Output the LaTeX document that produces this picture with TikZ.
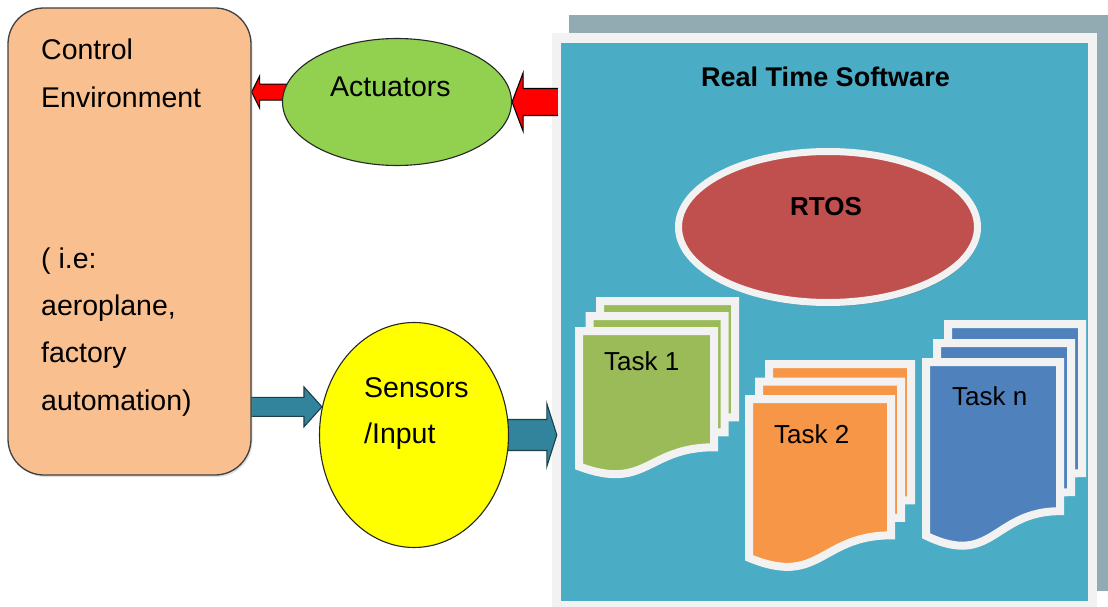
\documentclass[tikz,border=0pt]{standalone}
\usepackage{fontspec}
\setmainfont{Liberation Sans}
\usetikzlibrary{shapes.geometric,calc,shadows}

\definecolor{envfill}{HTML}{F9BF8F}
\definecolor{actgreen}{HTML}{92D050}
\definecolor{senyellow}{HTML}{FFFF00}
\definecolor{arrred}{HTML}{FF0000}
\definecolor{arrteal}{HTML}{31849B}
\definecolor{arrtealdark}{HTML}{1C3F4A}
\definecolor{backgray}{HTML}{92AAB2}
\definecolor{framewhite}{HTML}{F2F2F2}
\definecolor{rtteal}{HTML}{4BACC6}
\definecolor{rtosred}{HTML}{C0504D}
\definecolor{taskgreen}{HTML}{9BBB59}
\definecolor{taskorange}{HTML}{F79646}
\definecolor{taskblue}{HTML}{4F81BD}

\pgfdeclarelayer{back}
\pgfdeclarelayer{arrows}
\pgfsetlayers{back,arrows,main}

\tikzset{
  txt/.style={font=\fontsize{28.5}{34}\selectfont, anchor=base west, inner sep=0pt},
  boldtxt/.style={font=\fontsize{27}{32}\selectfont\bfseries, inner sep=0pt},
  tasktxt/.style={font=\fontsize{26}{30}\selectfont, anchor=base west, inner sep=0pt},
  envbox/.style={draw=black!75, line width=1.3pt, fill=envfill, rounded corners=36pt,
    minimum width=243pt, minimum height=467pt, inner sep=0pt,
    drop shadow={shadow xshift=1.5pt, shadow yshift=-2pt, opacity=0.25}},
  bubble/.style={ellipse, draw=black!85, line width=1.1pt, inner sep=0pt},
  redfill/.style={fill=arrred},
  redline/.style={draw=black, line width=1.1pt, line join=miter},
  tealfill/.style={fill=arrteal},
  tealline/.style={draw=arrtealdark, line width=1.1pt, line join=miter},
  pageframe/.style={draw=framewhite, line width=8pt, line join=miter,
    drop shadow={shadow xshift=1.5pt, shadow yshift=-3pt, opacity=0.3}},
}

% block arrow: #1 fill style, #2 outline style, #3 tail, #4 tip,
% #5 shaft half-width, #6 head half-width, #7 signed head length
\newcommand\blockarrow[7]{%
  \fill[#1] ($(#3)+(0,-#5)$) -- ($(#4)+(#7,-#5)$) -- ($(#4)+(#7,-#6)$) -- (#4)
    -- ($(#4)+(#7,#6)$) -- ($(#4)+(#7,#5)$) -- ($(#3)+(0,#5)$) -- cycle;
  \draw[#2] ($(#3)+(0,-#5)$) -- ($(#4)+(#7,-#5)$) -- ($(#4)+(#7,-#6)$) -- (#4)
    -- ($(#4)+(#7,#6)$) -- ($(#4)+(#7,#5)$) -- ($(#3)+(0,#5)$);}

% one page with a wavy lower edge: left, top, width, height, colour
\newcommand\docpage[5]{%
  \filldraw[pageframe, fill=#5] (#1,#2) -- (#1+#3,#2) -- (#1+#3,#2+0.802*#4)
    .. controls (#1+0.5*#3,#2+0.802*#4) and (#1+0.5*#3,#2+1.108*#4) .. (#1,#2+0.934*#4)
    -- cycle;}

% a stack of three pages: left, top, width, height, dx, dy, colour
\newcommand\taskstack[7]{%
  \docpage{#1+2*#5}{#2-2*#6}{#3}{#4}{#7}
  \docpage{#1+#5}{#2-#6}{#3}{#4}{#7}
  \docpage{#1}{#2}{#3}{#4}{#7}}

\begin{document}
\begin{tikzpicture}[x=1pt,y=-1pt]
\useasboundingbox (0,0) rectangle (1108,607);
\clip (0,0) rectangle (1108,607);

% real time software panel
\begin{pgfonlayer}{back}
  \fill[backgray] (569,15) rectangle (1115,591);
  \node[fill=framewhite, minimum width=545pt, minimum height=574pt, inner sep=0pt] (rts) at (824.5,320) {};
  \node[fill=rtteal, minimum width=527pt, minimum height=558pt, inner sep=0pt] (rtsin) at (824.5,322) {};
\end{pgfonlayer}
\node[boldtxt, anchor=base west] (rtstitle) at (701,87) {Real Time Software};

% control environment
\node[envbox] (env) at (129.5,241.5) {};
\node[txt] (env1) at (41,60) {Control};
\node[txt] (env2) at (41,108) {Environment};
\node[txt] (env3) at (41,268) {( i.e:};
\node[txt] (env4) at (41,315) {aeroplane,};
\node[txt] (env5) at (41,362) {factory};
\node[txt] (env6) at (41,410) {automation)};

% actuators and sensors
\node[bubble, fill=actgreen, minimum width=229pt, minimum height=127pt] (act) at (397,102) {};
\node[txt] (acttxt) at (330,97) {Actuators};
\node[bubble, fill=senyellow, minimum width=189pt, minimum height=225pt] (sens) at (414,435) {};
\node[txt] (sens1) at (364,397) {Sensors};
\node[txt] (sens2) at (364,443) {/Input};

% connectors
\coordinate (r1tip) at (env.east |- act.175);
\coordinate (r1tail) at (act.center |- r1tip);
\coordinate (r2tail) at ($(rts.west |- act.east)+(6,0)$);
\coordinate (t1tip) at (sens.163);
\coordinate (t1tail) at (env.center |- t1tip);
\coordinate (t2tip) at ($(rts.west |- sens.center)+(5,0)$);
\begin{pgfonlayer}{arrows}
  \blockarrow{redfill}{redline}{r1tail}{r1tip}{8}{16}{8}
  \blockarrow{redfill}{redline}{r2tail}{act.east}{13.5}{29}{11}
  \blockarrow{tealfill}{tealline}{t1tail}{t1tip}{9.5}{20}{-18}
  \blockarrow{tealfill}{tealline}{sens.center}{t2tip}{15.5}{31.5}{-10}
\end{pgfonlayer}

% operating system
\node[ellipse, fill=rtosred, draw=framewhite, line width=7pt, minimum width=299pt,
  minimum height=151pt, inner sep=0pt,
  drop shadow={shadow xshift=2pt, shadow yshift=-4pt, opacity=0.35}] (rtos) at (828,227) {};
\node[boldtxt, anchor=base, font=\fontsize{26}{30}\selectfont\bfseries] (rtostxt) at (826,215) {RTOS};

% tasks
\taskstack{579}{331}{135}{145}{10.5}{15}{taskgreen}
\node[tasktxt] (task1) at (604,370) {Task 1};
\taskstack{749}{399}{142}{170}{10}{17.5}{taskorange}
\node[tasktxt] (task2) at (774,443) {Task 2};
\taskstack{926}{362}{134}{186}{11}{19}{taskblue}
\node[tasktxt] (taskn) at (952,405) {Task n};
\end{tikzpicture}
\end{document}
